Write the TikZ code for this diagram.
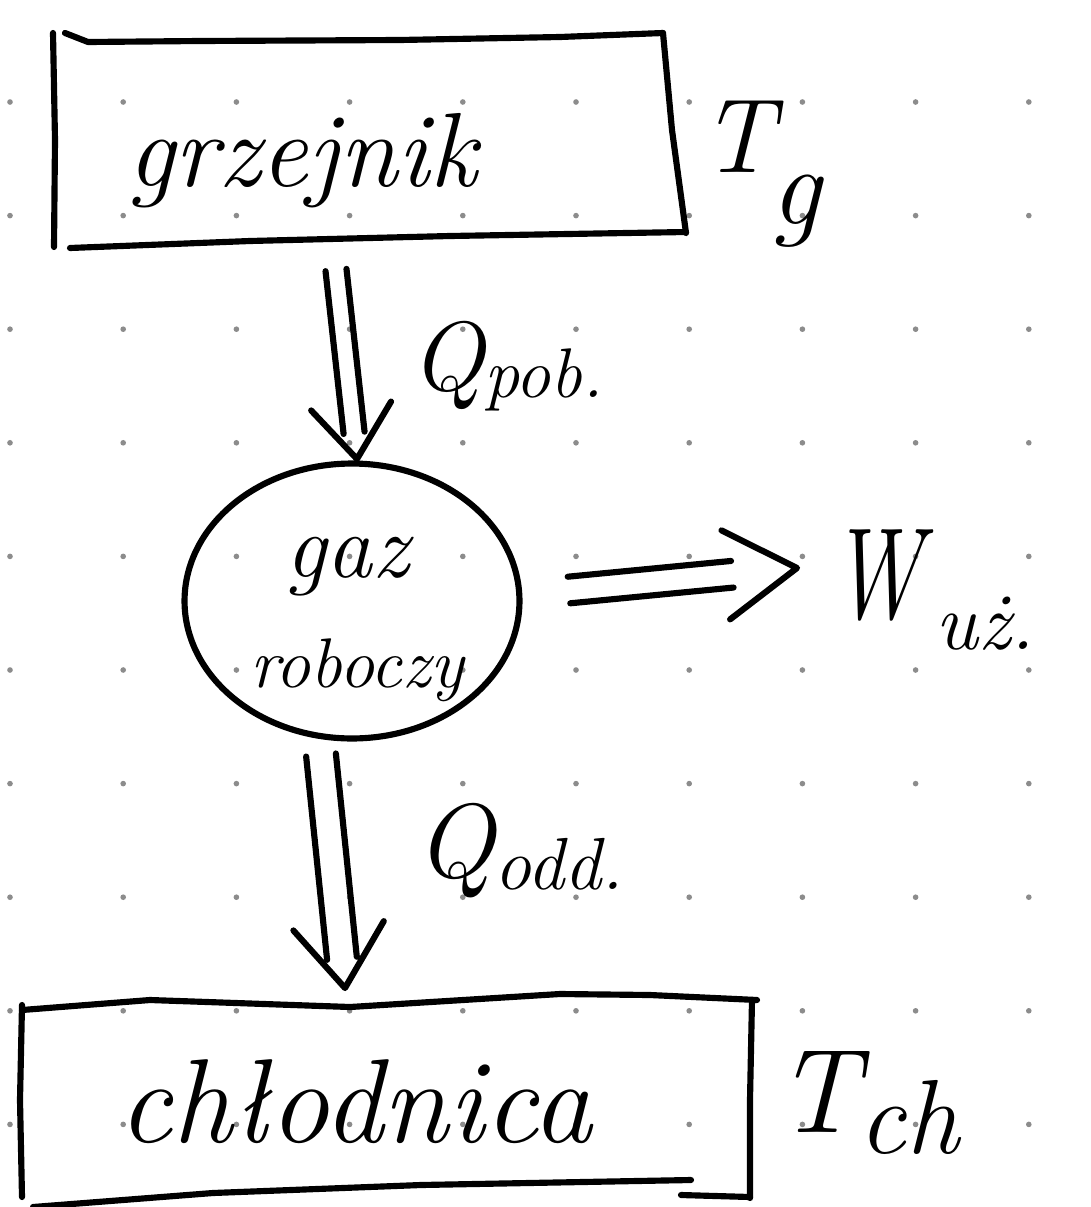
\documentclass[tikz,border=0pt]{standalone}
\usetikzlibrary{calc,shapes.geometric}
\definecolor{dotc}{gray}{0.55}
\tikzset{
  pen/.style={line width=3.5pt, line cap=round, line join=round},
  hand/.style={font=\itshape, inner sep=0pt},
}
\newcommand\fsz[1]{\fontsize{#1}{#1}\selectfont}
% #1 start, #2 tip, #3 half gap (centre to centre), #4 rail stop before tip, #5 arm length, #6 arm angle
\newcommand\dblarrow[6]{%
  \coordinate (#1e) at ($(#2)!#4!(#1)$);
  \draw[pen] ($(#1)!#3!90:(#2)$) -- ($(#1e)!#3!90:(#2)$);
  \draw[pen] ($(#1)!#3!-90:(#2)$) -- ($(#1e)!#3!-90:(#2)$);
  \draw[pen] ($(#2)!#5!#6:(#1)$) -- (#2) -- ($(#2)!#5!-#6:(#1)$);}
\begin{document}
\begin{tikzpicture}[x=0.02cm,y=-0.02cm]
\useasboundingbox (0,0) rectangle (1091,1207);
\fill[white] (0,0) rectangle (1091,1207);
% dot grid
\foreach \i in {0,...,9}{\foreach \j in {0,...,9}{
  \fill[dotc] ({10+113.2*\i},{102+113.6*\j}) circle[radius=1.6pt];}}

% heater box (hand-drawn outline)
\draw[pen] (53,33) -- (55,140) -- (54,247);
\draw[pen] (65,33) -- (88,42) -- (200,41) -- (400,40) -- (560,37) -- (663,33);
\draw[pen] (663,33) -- (672,130) -- (686,233);
\draw[pen] (70,248) -- (250,241) -- (450,236) -- (686,232);
\node[hand, anchor=base] (heater) at (302,186) {\fsz{60}grzejnik};
\node[hand, anchor=base west] (Tg) at (700,172) {\fsz{60}T\kern-2pt\raisebox{-30pt}{\fsz{64}g}};

% working gas
\node[draw, pen, ellipse, minimum width=6.7cm, minimum height=5.5cm, inner sep=0pt] (gas) at (352,601) {};
\node[hand, anchor=base] (gaz) at (347,577) {\fsz{52}gaz};
\node[hand, anchor=base] (roboczy) at (357,687) {\fsz{40}roboczy};

% cooler box
\draw[pen] (22,1010) -- (150,1000) -- (350,1007) -- (560,994) -- (650,995) -- (757,1000);
\draw[pen] (22,1005) -- (20,1100) -- (22,1197);
\draw[pen] (752,1000) -- (750,1100) -- (750,1198);
\draw[pen] (33,1207) -- (213,1193) -- (421,1185) -- (691,1180);
\draw[pen] (681,1195) -- (750,1197);
\node[hand, anchor=base] (cooler) at (355,1142) {\fsz{68}chłodnica};
\node[hand, anchor=base west] (Tch) at (775,1132) {\fsz{68}T\raisebox{-12pt}{\fsz{60}ch}};

% arrows
\coordinate (pobS) at (336,270); \coordinate (pobE) at (357,459);
\dblarrow{pobS}{pobE}{6pt}{15pt}{38pt}{37}
\node[hand, anchor=base west] (Qpob) at (410,390) {\fsz{56}Q\raisebox{-4pt}{\fsz{40}pob.}};

\coordinate (uzS) at (569,590); \coordinate (uzE) at (797,568);
\dblarrow{uzS}{uzE}{7.6pt}{37pt}{48pt}{32}
\node[hand, anchor=base west] (Wuz) at (830,618) {\fsz{74}\scalebox{0.72}[1]{W}\kern8pt\raisebox{-18pt}{\fsz{46}uż.}};

\coordinate (oddS) at (321,755); \coordinate (oddE) at (345,988);
\dblarrow{oddS}{oddE}{8.5pt}{17pt}{44pt}{36}
\node[hand, anchor=base west] (Qodd) at (415,877) {\fsz{60}Q\raisebox{-7pt}{\fsz{42}odd.}};
\end{tikzpicture}
\end{document}
